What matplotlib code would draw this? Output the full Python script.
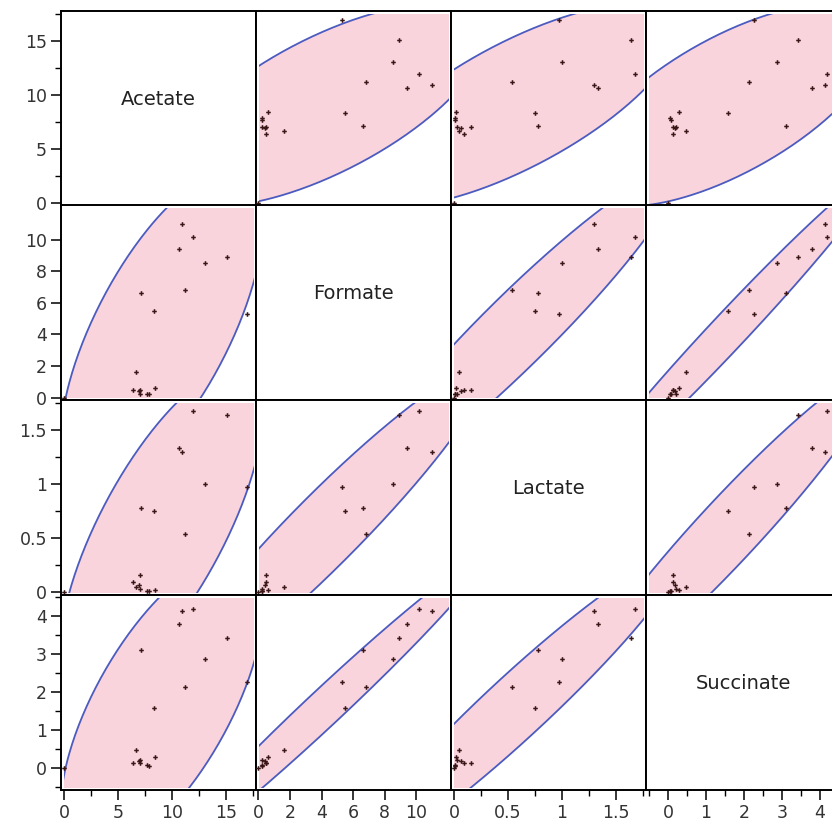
import matplotlib
matplotlib.use("Agg")
import matplotlib.pyplot as plt
from matplotlib.ticker import MultipleLocator, FixedLocator
from matplotlib.patches import Rectangle
import numpy as np

# data (one value per sample)
acetate = [10.97, 11.96, 10.65, 15.1, 13.05, 7.1, 11.2, 8.3, 17.0, 6.7,
           8.4, 7.85, 7.7, 7.05, 7.0, 6.9, 6.4, 0.0]
formate = [11.0, 10.2, 9.4, 8.9, 8.5, 6.6, 6.8, 5.5, 5.3, 1.65,
           0.6, 0.25, 0.2, 0.5, 0.2, 0.4, 0.5, 0.0]
lactate = [1.30, 1.675, 1.33, 1.64, 1.0, 0.78, 0.54, 0.75, 0.97, 0.04,
           0.02, 0.01, 0.01, 0.16, 0.03, 0.06, 0.09, 0.0]
succinate = [4.14, 4.17, 3.79, 3.42, 2.86, 3.1, 2.14, 1.58, 2.27, 0.46,
             0.3, 0.05, 0.08, 0.14, 0.2, 0.17, 0.13, 0.0]

names = ["Acetate", "Formate", "Lactate", "Succinate"]
cols = [acetate, formate, lactate, succinate]
limits = [(-0.3, 17.8), (-0.15, 12.2), (-0.03, 1.78), (-0.58, 4.55)]
major_ticks = [[0, 5, 10, 15], [0, 2, 4, 6, 8, 10], [0, 0.5, 1, 1.5], [0, 1, 2, 3, 4]]
minor = [2.5, None, 0.25, 0.5]

fill_col = "#f9d4dc"
line_col = "#4b5bbf"
dot_col = "#3a1515"


def ellipse(x, y, q=5.991):
    # 95% bivariate normal density ellipse
    x = np.asarray(x); y = np.asarray(y)
    cov = np.cov(x, y)
    L = np.linalg.cholesky(cov)
    t = np.linspace(0, 2 * np.pi, 400)
    circ = np.vstack([np.cos(t), np.sin(t)]) * np.sqrt(q)
    pts = L @ circ
    return x.mean() + pts[0], y.mean() + pts[1]


fig = plt.figure(figsize=(8.32, 8.33), dpi=100)
W, H = 832, 833
x0 = [61, 256, 451, 646]
y0 = [11, 205, 400, 595]
pw, ph = 195, 195
ins = 2.5 / 195  # small white margin inside each frame

for r in range(4):
    for c in range(4):
        ax = fig.add_axes([x0[c] / W, 1 - (y0[r] + ph) / H, pw / W, ph / H])
        ax.set_xlim(limits[c])
        ax.set_ylim(limits[r])
        for s in ax.spines.values():
            s.set_linewidth(1.4)
            s.set_color("black")
        if r == c:
            ax.text(0.5, 0.545, names[r], transform=ax.transAxes,
                    ha="center", va="center", fontsize=14, color="#222222")
        else:
            clip = Rectangle((ins, ins), 1 - 2 * ins, 1 - 2 * ins,
                             transform=ax.transAxes, fill=False, lw=0)
            ax.add_patch(clip)
            ex, ey = ellipse(cols[c], cols[r])
            f = ax.fill(ex, ey, color=fill_col, lw=0, zorder=1)[0]
            ln = ax.plot(ex, ey, color=line_col, lw=1.3, zorder=2)[0]
            f.set_clip_path(clip)
            ln.set_clip_path(clip)
            ax.plot(cols[c], cols[r], "P", color=dot_col, ms=3.3, mew=0, zorder=3)

        # ticks only on the outer edge
        ax.xaxis.set_major_locator(FixedLocator(major_ticks[c]))
        if minor[c]:
            ax.xaxis.set_minor_locator(MultipleLocator(minor[c]))
        ax.yaxis.set_major_locator(FixedLocator(major_ticks[r]))
        if minor[r]:
            ax.yaxis.set_minor_locator(MultipleLocator(minor[r]))
        ax.tick_params(which="major", length=7, width=1.1, labelsize=12.5,
                       labelcolor="#333333", pad=3)
        ax.tick_params(which="minor", length=4, width=1.0)
        if c != 0:
            ax.tick_params(axis="y", which="both", left=False, labelleft=False)
        if r != 3:
            ax.tick_params(axis="x", which="both", bottom=False, labelbottom=False)
        ax.yaxis.set_major_formatter(plt.FuncFormatter(lambda v, p: f"{v:g}"))
        ax.xaxis.set_major_formatter(plt.FuncFormatter(lambda v, p: f"{v:g}"))

fig.savefig("out.png", dpi=100)
